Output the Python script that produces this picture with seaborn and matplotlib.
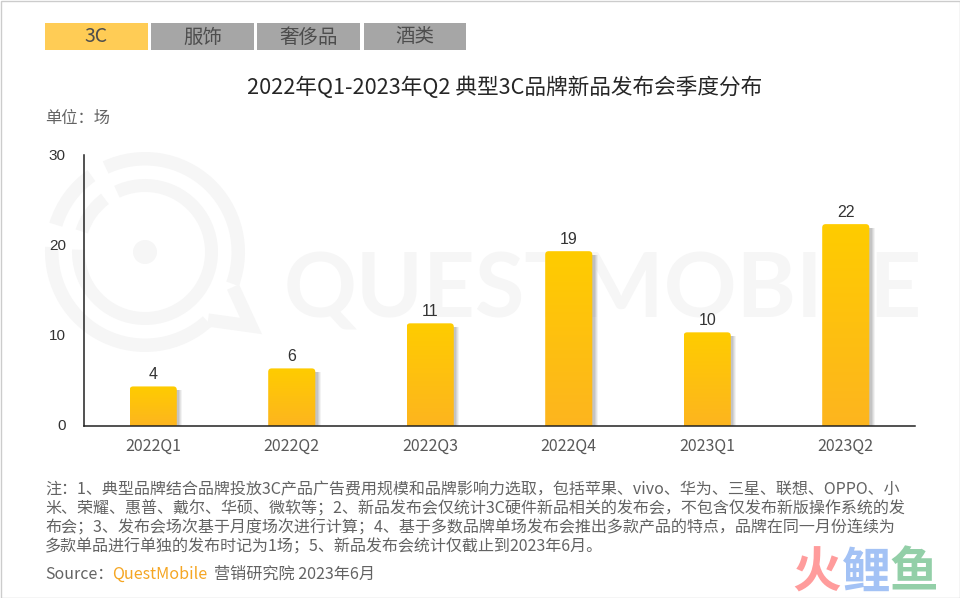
import matplotlib
matplotlib.use("Agg")
import matplotlib.pyplot as plt
from matplotlib.patches import Rectangle, Wedge, Circle, FancyBboxPatch
from matplotlib.lines import Line2D
from matplotlib.transforms import Affine2D, ScaledTranslation
import numpy as np
import pandas as pd
import seaborn as sns

quarters = ["2022Q1", "2022Q2", "2022Q3", "2022Q4", "2023Q1", "2023Q2"]
events = [4, 6, 11, 19, 10, 22]
y_ticks = [0, 10, 20, 30]
tabs = ["3C", "服饰", "奢侈品", "酒类"]
title = "2022年Q1-2023年Q2 典型3C品牌新品发布会季度分布"
unit = "单位：场"
notes = [
    "注：1、典型品牌结合品牌投放3C产品广告费用规模和品牌影响力选取，包括苹果、vivo、华为、三星、联想、OPPO、小",
    "米、荣耀、惠普、戴尔、华硕、微软等；2、新品发布会仅统计3C硬件新品相关的发布会，不包含仅发布新版操作系统的发",
    "布会；3、发布会场次基于月度场次进行计算；4、基于多数品牌单场发布会推出多款产品的特点，品牌在同一月份连续为",
    "多款单品进行单独的发布时记为1场；5、新品发布会统计仅截止到2023年6月。",
]

sns.set_theme(style="white")
CJK = ["Noto Sans CJK SC", "DejaVu Sans"]
plt.rcParams["font.family"] = CJK

W, H = 960, 598
fig = plt.figure(figsize=(W / 100, H / 100), dpi=100, facecolor="white")
px = Affine2D().scale(1, -1).translate(0, H)  # pixel coords, origin top-left

ax = fig.add_axes([84 / W, 1 - 425.5 / H, (915 - 84) / W, (425.5 - 155) / H])
ax.patch.set_alpha(0)

# ---------- watermark ----------
WM = "#F6F6F6"
cx, cy = 145, 252
def ring(t1, t2, r, w):
    fig.add_artist(Wedge((cx, cy), r, -t2, -t1, width=w, transform=px, fc=WM, ec="none", zorder=-2))
for t1, t2 in [(-20, 115), (125, 163), (177, 312)]:
    ring(t1, t2, 100, 13.5)
for t1, t2 in [(-182, 115), (127, 162)]:
    ring(t1, t2, 73, 13)
fig.add_artist(Circle((cx, cy), 12, transform=px, fc=WM, ec="none", zorder=-2))
fig.add_artist(Line2D([233, 251, 208], [287, 326, 320], transform=px, color=WM, lw=9.5,
                      solid_joinstyle="miter", solid_capstyle="butt", zorder=-2))
fig.text(284, 318, "QUESTMOBILE", transform=px, fontsize=65, family="Lato", fontweight="bold",
         color=WM, ha="left", va="baseline", zorder=-2)

# ---------- bars ----------
df = pd.DataFrame({"quarter": quarters, "events": events})
sns.barplot(data=df, x="quarter", y="events", color="#FFC20A", width=0.34, saturation=1, ax=ax, zorder=3)
ax.set_xlim(-0.5, 5.5)
ax.set_ylim(0, 30)
ax.set_autoscale_on(False)
ax.set_yticks(y_ticks)
ax.set_xlabel("")
ax.set_ylabel("")
sns.despine(ax=ax)
for s in ("left", "bottom"):
    ax.spines[s].set_color("#222222")
    ax.spines[s].set_linewidth(1.1)
    ax.spines[s].set_zorder(6)
ax.tick_params(axis="y", length=0, pad=13, labelsize=11, labelcolor="#333333")
ax.tick_params(axis="x", length=0, pad=9, labelsize=11.5, labelcolor="#595959")
nudge = ScaledTranslation(0, 1 / 100, fig.dpi_scale_trans)
for t in ax.get_yticklabels():
    t.set_family("Liberation Sans")
    t.set_transform(t.get_transform() + nudge)

CAP = 3
gradient = np.linspace([1.0, 0.80, 0.0], [0.992, 0.71, 0.12], 64).reshape(64, 1, 3)
to_data = ax.transData
for bar in list(ax.containers[0]):
    (x0, y1), (x1, y0) = to_data.transform([(bar.get_x(), 0), (bar.get_x() + bar.get_width(), bar.get_height())])
    top = H - y0 - CAP
    bottom = H - y1
    left, right = x0, x1
    for off, a in [(5.5, .10), (4.5, .14), (3.5, .18), (2.5, .22)]:
        ax.add_patch(Rectangle((left + 3, top + 4), right - left - 3 + off, bottom - top - 4,
                               transform=px, fc="#8E8E8E", ec="none", alpha=a, zorder=2))
    clip = FancyBboxPatch((left, top), right - left, bottom - top + 8,
                          boxstyle="round,pad=0,rounding_size=3.5",
                          transform=px, fc="none", ec="none", zorder=4)
    ax.add_patch(clip)
    bar.set_visible(False)
    im = ax.imshow(gradient, extent=(bar.get_x(), bar.get_x() + bar.get_width(), 0,
                                     bar.get_height() + CAP * 30 / 270.5),
                   aspect="auto", zorder=4, origin="upper")
    im.set_clip_path(clip)
ax.set_xlim(-0.5, 5.5)
ax.set_ylim(0, 30)

ax.bar_label(ax.containers[0], labels=[str(v) for v in events], padding=5.2, fontsize=11.5,
             family="Liberation Sans", color="#333333", zorder=7)

# ---------- tabs ----------
tab_boxes = [(45, 148), (151, 254), (257, 360), (364, 466)]
for i, (label, (a, b)) in enumerate(zip(tabs, tab_boxes)):
    fig.add_artist(Rectangle((a, 23), b - a, 27, transform=px, fc="#FFCC55" if i == 0 else "#A6A6A6", ec="none"))
    fig.text((a + b) / 2, 37, label, transform=px, fontsize=14, color="#4D4D4D", ha="center", va="center")

# ---------- text ----------
TXT = "#636363"
fig.text(505, 88, title, transform=px, fontsize=15.6, color="#262626", ha="center", va="center")
fig.text(45, 118.5, unit, transform=px, fontsize=11.7, color=TXT, ha="left", va="center")
for y, line in zip([490, 509, 528, 547], notes):
    fig.text(45, y, line, transform=px, fontsize=11.55, color=TXT, ha="left", va="center")
fig.text(45, 574, "Source：", transform=px, fontsize=11.5, color=TXT, ha="left", va="center")
fig.text(112, 574, "QuestMobile", transform=px, fontsize=11.6, color="#F5A623", ha="left", va="center")
fig.text(214, 574, "营销研究院 2023年6月", transform=px, fontsize=11.6, color=TXT, ha="left", va="center")

# ---------- logo ----------
for ch, x, c in [("火", 817, "#FF9C9C"), ("鲤", 866, "#A3C2F5"), ("鱼", 914, "#93CFA8")]:
    fig.text(x, 573, ch, transform=px, fontsize=35, fontweight="bold", color=c, ha="center", va="center")

# ---------- image border ----------
fig.add_artist(Rectangle((0.5, 0.5), W - 1, H - 1, transform=px, fc="none", ec="#CCCCCC", lw=1))

fig.savefig("out.png", dpi=100)
